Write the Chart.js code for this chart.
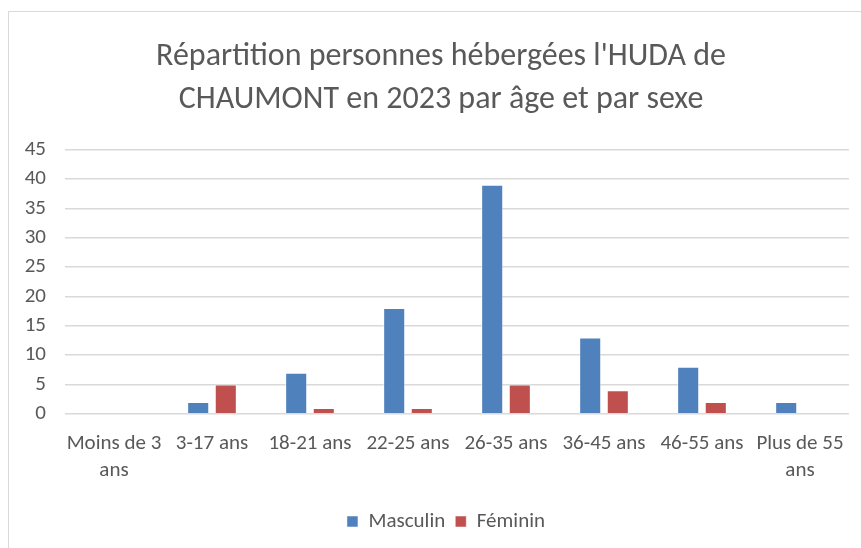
<!DOCTYPE html>
<html>
<head>
<meta charset="utf-8">
<script src="https://cdn.jsdelivr.net/npm/chart.js@4"></script>
<style>
    body { margin: 0; background: #fff; }
    #cadre { position: absolute; left: 8px; top: 11px; width: 870px; height: 560px; border: 1px solid #d9d9d9; }
    #zone { position: absolute; left: 0; top: 0; width: 861px; height: 548px; }
</style>
</head>
<body>
<div id="cadre"></div>
<div id="zone"><canvas id="cv" width="861" height="548"></canvas></div>
<script>
//données
const categories = [["Moins de 3", "ans"], "3-17 ans", "18-21 ans", "22-25 ans", "26-35 ans", "36-45 ans", "46-55 ans", ["Plus de 55", "ans"]];
const masculin = [0, 2, 7, 18, 39, 13, 8, 2];
const feminin = [0, 5, 1, 1, 5, 4, 2, 0];
const titre = ["Répartition personnes hébergées l'HUDA de", "CHAUMONT en 2023 par âge et par sexe"];

const police = "'Carlito', 'Liberation Sans Narrow', 'Open Sans', sans-serif";
const gris = "#595959";

let ctx = document.getElementById("cv").getContext("2d");

// titre et légende un peu décalés vers la droite comme dans excel
const decalage = {
    id: "decalage",
    afterLayout(chart) {
        chart.titleBlock.left += 4;
        chart.titleBlock.right += 4;
        chart.legend.left += 9;
        chart.legend.right += 9;
    }
};

new Chart(ctx, {
    type: "bar",
    data: {
        labels: categories,
        datasets: [{
            label: "Masculin",
            data: masculin,
            backgroundColor: "#4F81BD",
            borderColor: "rgba(255,255,255,0.5)",
            borderWidth: 1,
            barPercentage: 0.8,
            categoryPercentage: 0.563
        }, {
            label: "Féminin",
            data: feminin,
            backgroundColor: "#C0504D",
            borderColor: "rgba(255,255,255,0.5)",
            borderWidth: 1,
            barPercentage: 0.8,
            categoryPercentage: 0.563
        }]
    },
    options: {
        responsive: false,
        animation: false,
        layout: { padding: { left: 25, right: 12, top: 35, bottom: 6 } },
        scales: {
            x: {
                grid: { display: false, drawTicks: false },
                border: { display: false },
                ticks: { color: gris, font: { family: police, size: 21, lineHeight: 1.29 }, padding: 16.5, maxRotation: 0, autoSkip: false }
            },
            y: {
                min: 0,
                max: 45,
                afterFit: (scale) => { scale.width = 40; },
                ticks: { stepSize: 5, autoSkip: false, color: gris, font: { family: police, size: 21 }, padding: 19 },
                grid: { color: "#d9d9d9", lineWidth: 1.5, drawTicks: false },
                border: { display: false }
            }
        },
        plugins: {
            title: {
                display: true,
                text: titre,
                color: gris,
                font: { family: police, size: 32, weight: "normal", lineHeight: 1.344 },
                padding: { top: 0, bottom: 28.5 }
            },
            legend: {
                position: "bottom",
                labels: { color: gris, font: { family: police, size: 21 }, boxWidth: 11, boxHeight: 11, padding: 10 }
            },
            tooltip: { enabled: false }
        }
    },
    plugins: [decalage]
});
</script>
</body>
</html>
